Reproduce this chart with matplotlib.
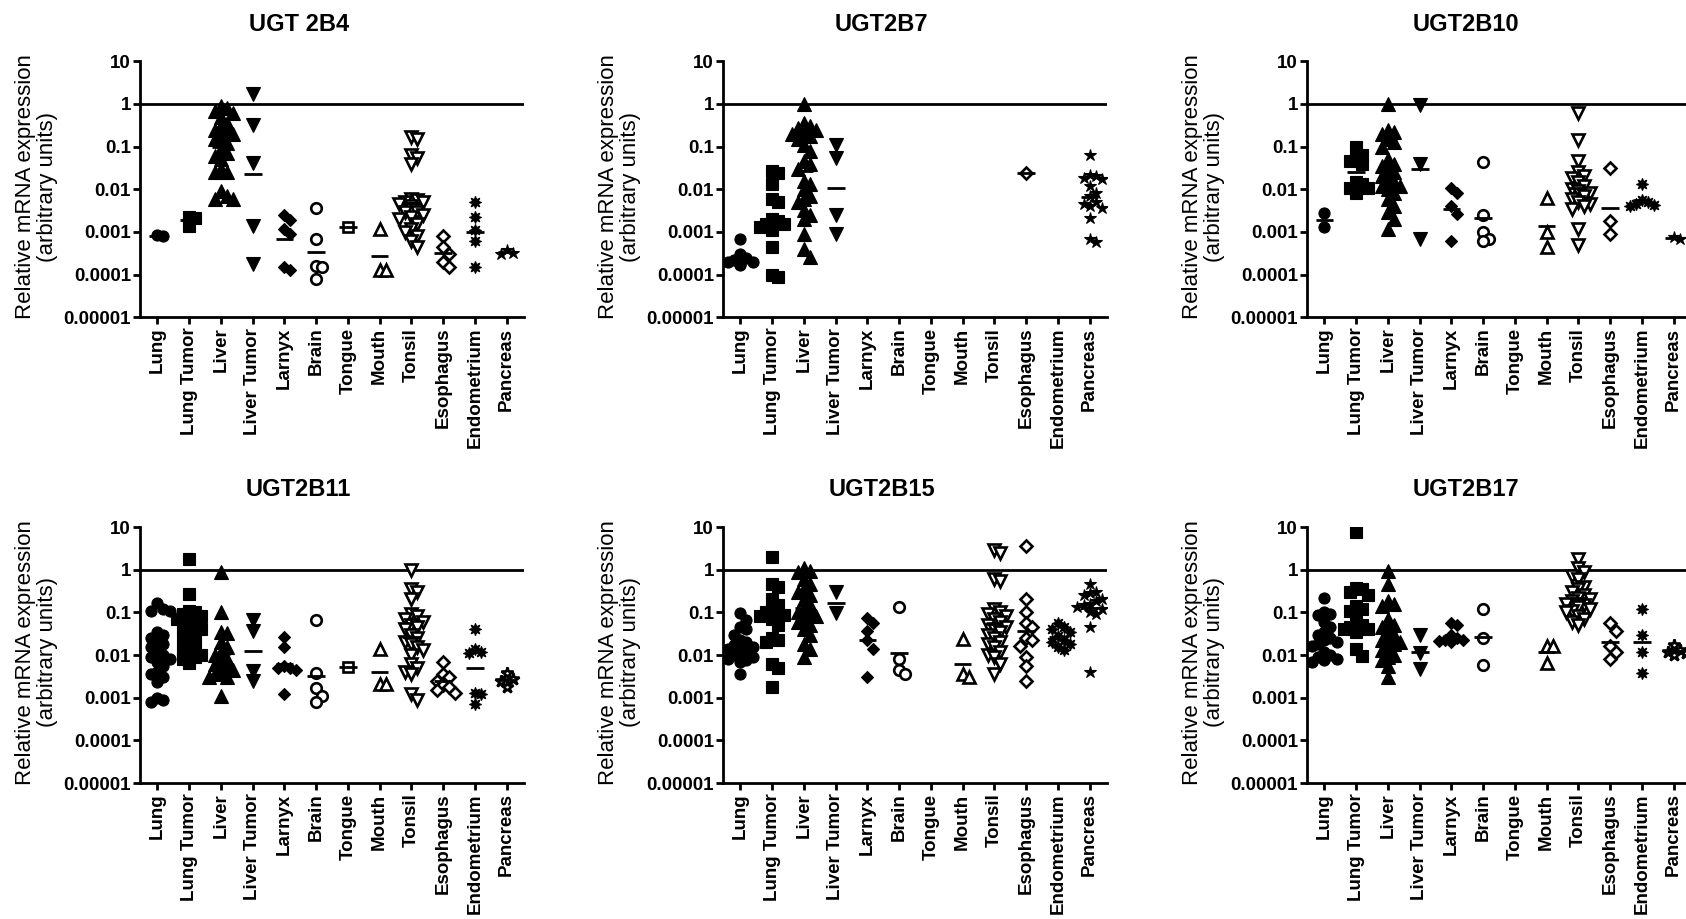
import numpy as np
import matplotlib.pyplot as plt
from matplotlib.ticker import FixedLocator, FixedFormatter, NullLocator

plt.rcParams['font.family'] = ['Liberation Sans', 'DejaVu Sans']

tissues = ["Lung", "Lung Tumor", "Liver", "Liver Tumor", "Larnyx", "Brain",
           "Tongue", "Mouth", "Tonsil", "Esophagus", "Endometrium", "Pancreas"]

y_ticks = [1e1, 1e0, 1e-1, 1e-2, 1e-3, 1e-4, 1e-5]
y_tick_labels = ["10", "1", "0.1", "0.01", "0.001", "0.0001", "0.00001"]

# relative expression per tissue, same order as `tissues`
ugt2b4 = [
    [0.00085, 0.0008],
    [0.0023, 0.0021, 0.0014],
    [0.9, 0.8, 0.7, 0.6, 0.5, 0.35, 0.3, 0.25, 0.22, 0.2, 0.18, 0.15, 0.12,
     0.09, 0.07, 0.06, 0.05, 0.03, 0.025, 0.025, 0.009, 0.007, 0.006, 0.006],
    [1.7, 0.33, 0.041, 0.0014, 0.00018],
    [0.0025, 0.0019, 0.0012, 0.0009, 0.00015, 0.00013],
    [0.0037, 0.0007, 0.00016, 0.00015, 0.00008],
    [0.0013],
    [0.0012, 0.00013, 0.00013],
    [0.17, 0.15, 0.065, 0.055, 0.04, 0.006, 0.0055, 0.005, 0.005, 0.0045,
     0.004, 0.0035, 0.003, 0.003, 0.0025, 0.0022, 0.002, 0.0015, 0.0012,
     0.001, 0.0008, 0.0006, 0.00045],
    [0.0008, 0.00045, 0.0003, 0.0002, 0.00015],
    [0.005, 0.0022, 0.0011, 0.0006, 0.00015],
    [0.00038, 0.00032, 0.0003],
]

ugt2b7 = [
    [0.0007, 0.0003, 0.00025, 0.00022, 0.0002, 0.0002, 0.00018, 0.00017],
    [0.027, 0.024, 0.013, 0.006, 0.005, 0.002, 0.0018, 0.0015, 0.0015,
     0.0013, 0.0011, 0.00045, 0.0001, 0.00009],
    [1.0, 0.35, 0.3, 0.28, 0.25, 0.22, 0.2, 0.2, 0.18, 0.15, 0.11, 0.08,
     0.045, 0.04, 0.03, 0.016, 0.013, 0.01, 0.007, 0.006, 0.005, 0.0033,
     0.0025, 0.002, 0.0009, 0.0004, 0.00026],
    [0.11, 0.055, 0.0025, 0.0009],
    [], [], [], [], [],
    [0.024],
    [],
    [0.065, 0.022, 0.02, 0.018, 0.017, 0.012, 0.008, 0.007, 0.005, 0.0045,
     0.004, 0.0037, 0.0021, 0.0007, 0.00058],
]

ugt2b10 = [
    [0.0013, 0.0028],
    [0.1, 0.065, 0.05, 0.045, 0.04, 0.015, 0.013, 0.011, 0.011, 0.008],
    [1.0, 0.25, 0.22, 0.2, 0.15, 0.13, 0.1, 0.05, 0.04, 0.035, 0.03, 0.025,
     0.02, 0.018, 0.015, 0.012, 0.012, 0.01, 0.008, 0.006, 0.004, 0.003,
     0.002, 0.0012],
    [0.95, 0.039, 0.0007],
    [0.011, 0.008, 0.004, 0.0026, 0.0006],
    [0.043, 0.0025, 0.001, 0.0007, 0.0006],
    [],
    [0.0063, 0.001, 0.00045],
    [0.6, 0.14, 0.045, 0.025, 0.02, 0.018, 0.015, 0.012, 0.01, 0.009, 0.008,
     0.007, 0.006, 0.005, 0.0045, 0.004, 0.0035, 0.0012, 0.0005],
    [0.032, 0.0018, 0.0009],
    [0.013, 0.0055, 0.005, 0.0045, 0.0043, 0.004],
    [0.00078, 0.0007],
]

ugt2b11 = [
    [0.17, 0.12, 0.11, 0.11, 0.035, 0.03, 0.025, 0.02, 0.018, 0.015, 0.012,
     0.01, 0.009, 0.008, 0.007, 0.0055, 0.004, 0.0035, 0.003, 0.0023, 0.001,
     0.0009, 0.0008],
    [1.8, 0.27, 0.11, 0.1, 0.09, 0.08, 0.07, 0.06, 0.05, 0.045, 0.04, 0.035,
     0.03, 0.025, 0.02, 0.015, 0.013, 0.011, 0.01, 0.009, 0.008, 0.0065],
    [0.9, 0.1, 0.035, 0.032, 0.02, 0.015, 0.012, 0.01, 0.008, 0.007, 0.006,
     0.005, 0.0045, 0.004, 0.0035, 0.003, 0.003, 0.0011],
    [0.065, 0.037, 0.0042, 0.0025],
    [0.026, 0.015, 0.0055, 0.005, 0.005, 0.0045, 0.0012],
    [0.065, 0.0038, 0.0017, 0.0011, 0.0008],
    [0.0052],
    [0.014, 0.0021, 0.0021],
    [1.0, 0.35, 0.3, 0.2, 0.09, 0.08, 0.07, 0.06, 0.05, 0.045, 0.04, 0.03,
     0.025, 0.02, 0.018, 0.015, 0.013, 0.01, 0.006, 0.005, 0.004, 0.0035,
     0.0012, 0.0009],
    [0.007, 0.0035, 0.003, 0.0025, 0.002, 0.0018, 0.0015, 0.0013],
    [0.04, 0.014, 0.012, 0.011, 0.0013, 0.0012, 0.0007],
    [0.0038, 0.0028, 0.0024, 0.0018],
]

ugt2b15 = [
    [0.095, 0.065, 0.045, 0.04, 0.03, 0.022, 0.02, 0.017, 0.015, 0.014,
     0.013, 0.012, 0.011, 0.01, 0.009, 0.008, 0.0075, 0.007, 0.0035],
    [2.0, 0.45, 0.4, 0.2, 0.15, 0.12, 0.1, 0.09, 0.085, 0.08, 0.07, 0.05,
     0.025, 0.022, 0.02, 0.006, 0.005, 0.0018],
    [1.1, 0.95, 0.9, 0.6, 0.45, 0.35, 0.3, 0.25, 0.2, 0.15, 0.12, 0.1, 0.09,
     0.08, 0.07, 0.06, 0.05, 0.04, 0.03, 0.018, 0.014, 0.009],
    [0.3, 0.095],
    [0.075, 0.055, 0.037, 0.022, 0.014, 0.003],
    [0.13, 0.008, 0.0045, 0.0035],
    [],
    [0.024, 0.0035, 0.003],
    [2.9, 2.5, 0.6, 0.55, 0.12, 0.1, 0.09, 0.08, 0.07, 0.06, 0.05, 0.045,
     0.04, 0.035, 0.03, 0.025, 0.02, 0.018, 0.015, 0.012, 0.01, 0.009,
     0.006, 0.0035],
    [3.5, 0.2, 0.1, 0.055, 0.045, 0.025, 0.023, 0.016, 0.009, 0.0055, 0.0024],
    [0.055, 0.045, 0.04, 0.035, 0.028, 0.022, 0.02, 0.018, 0.015, 0.013],
    [0.45, 0.3, 0.28, 0.25, 0.2, 0.18, 0.16, 0.15, 0.13, 0.12, 0.1, 0.09,
     0.045, 0.004],
]

ugt2b17 = [
    [0.22, 0.1, 0.09, 0.085, 0.06, 0.045, 0.035, 0.03, 0.025, 0.022, 0.02,
     0.018, 0.016, 0.012, 0.01, 0.009, 0.008, 0.0075, 0.007],
    [7.6, 0.38, 0.35, 0.3, 0.25, 0.14, 0.12, 0.11, 0.06, 0.05, 0.045, 0.04,
     0.04, 0.035, 0.014, 0.0095],
    [0.95, 0.45, 0.18, 0.16, 0.14, 0.07, 0.05, 0.045, 0.04, 0.03, 0.025,
     0.022, 0.02, 0.018, 0.015, 0.013, 0.01, 0.009, 0.0075, 0.0055, 0.003],
    [0.03, 0.011, 0.0048],
    [0.055, 0.05, 0.03, 0.025, 0.023, 0.022, 0.021, 0.02],
    [0.12, 0.025, 0.0058],
    [],
    [0.016, 0.016, 0.0065],
    [1.8, 1.1, 0.9, 0.7, 0.6, 0.4, 0.35, 0.3, 0.25, 0.22, 0.2, 0.18, 0.16,
     0.15, 0.14, 0.13, 0.12, 0.11, 0.1, 0.08, 0.07, 0.06, 0.05],
    [0.055, 0.037, 0.016, 0.012, 0.008],
    [0.12, 0.03, 0.012, 0.0038],
    [0.017, 0.013, 0.012, 0.011, 0.01],
]

genes = [("UGT 2B4", ugt2b4), ("UGT2B7", ugt2b7), ("UGT2B10", ugt2b10),
         ("UGT2B11", ugt2b11), ("UGT2B15", ugt2b15), ("UGT2B17", ugt2b17)]

# marker, filled, size (pt) for each tissue column
markers = ['o', 's', '^', 'v', 'D', 'o', 's', '^', 'v', 'D', (8, 1, 0), '*']
filled = [True, True, True, True, True,
          False, False, False, False, False, True, True]
sizes = [8.0, 8.0, 9.5, 9.5, 6.4, 7.6, 7.6, 9.0, 9.0, 6.2, 8.8, 8.8]
open_pancreas = {"UGT2B11", "UGT2B17"}


def swarm_offsets(values, step=0.19, dy=0.2, nmax=2):
    """Spread points sideways when they sit at the same level (log scale)."""
    logs = np.log10(values)
    cands = [0.0]
    for k in range(1, nmax + 1):
        cands += [k * step, -k * step]
    offs = np.zeros(len(values))
    placed = []
    for i in np.argsort(-logs):
        best, best_score = 0.0, -1.0
        for c in cands:
            near = [abs(c - px) for px, py in placed if abs(logs[i] - py) < dy]
            score = min(near) if near else np.inf
            if score >= step * 0.99:
                best = c
                break
            if score > best_score:
                best, best_score = c, score
        offs[i] = best
        placed.append((best, logs[i]))
    return offs


fig = plt.figure(figsize=(16.86, 9.19), dpi=100)

lefts = [140, 723, 1307]
bottoms = [317.3, 783]
W, H = 1686.0, 919.0

for n, (name, data) in enumerate(genes):
    row, col = divmod(n, 3)
    ax = fig.add_axes([lefts[col] / W, 1 - bottoms[row] / H, 384 / W, 256 / H])

    ax.axhline(1, color='black', lw=2, zorder=2)

    for j, vals in enumerate(data):
        if not vals:
            continue
        v = np.array(vals, dtype=float)
        x = j + swarm_offsets(v)
        is_filled = filled[j]
        if j == 11 and name in open_pancreas:
            is_filled = False
        ax.plot(x, v, ls='none', marker=markers[j], ms=sizes[j],
                mfc='black' if is_filled else 'white', mec='black',
                mew=0.8 if is_filled else 1.9, zorder=3)
        gmean = 10 ** np.mean(np.log10(v))
        ax.plot([j - 0.28, j + 0.28], [gmean, gmean], color='black', lw=2,
                solid_capstyle='butt', zorder=4)

    ax.set_yscale('log')
    ax.set_ylim(1e-5, 10)
    ax.set_xlim(-0.55, 11.55)
    ax.yaxis.set_major_locator(FixedLocator(y_ticks))
    ax.yaxis.set_major_formatter(FixedFormatter(y_tick_labels))
    ax.yaxis.set_minor_locator(NullLocator())
    ax.set_xticks(range(len(tissues)))
    ax.set_xticklabels(tissues, rotation=90)

    for s in ['top', 'right']:
        ax.spines[s].set_visible(False)
    for s in ['left', 'bottom']:
        ax.spines[s].set_linewidth(2)
    ax.tick_params(axis='y', width=2, length=5, pad=1.5, labelsize=13.5)
    ax.tick_params(axis='x', width=2, length=5, pad=2.5, labelsize=13.5)
    for lbl in ax.get_xticklabels() + ax.get_yticklabels():
        lbl.set_fontweight('bold')

    ax.text(-0.27, 0.51, "Relative mRNA expression\n(arbitrary units)",
            rotation=90, ha='center', va='center', fontsize=16,
            linespacing=1.1, transform=ax.transAxes)
    ax.text(0.413, 1.145, name, ha='center', va='center', fontsize=17,
            fontweight='bold', transform=ax.transAxes)

fig.savefig("out.png", dpi=100)
